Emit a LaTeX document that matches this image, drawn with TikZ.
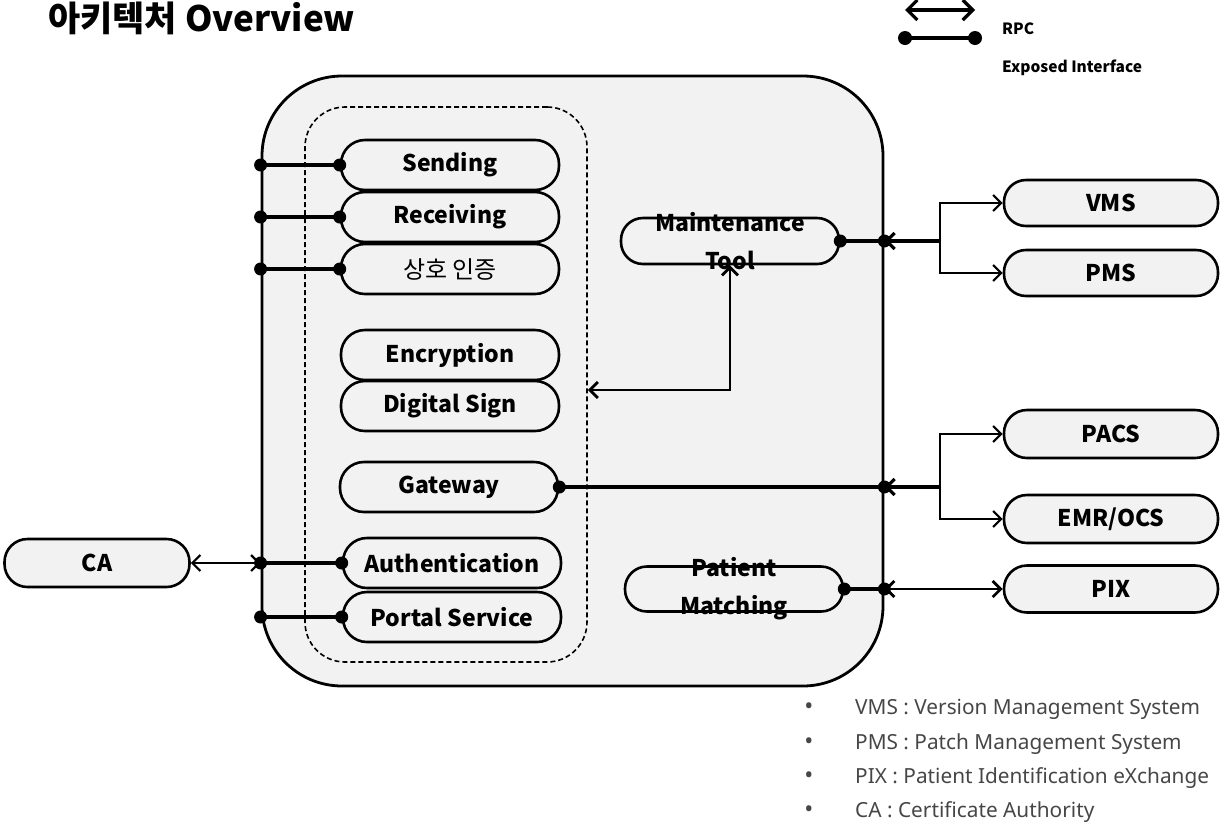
\documentclass[tikz,border=0pt]{standalone}
\usepackage{fontspec}
\setmainfont{Noto Sans CJK KR}
\newfontfamily\notefont{Noto Sans}
\usetikzlibrary{arrows.meta}
\definecolor{boxfill}{RGB}{242,242,242}
\definecolor{notegray}{RGB}{70,70,70}
\begin{document}
\begin{tikzpicture}[x=1pt,y=-1pt,
  mainbox/.style={draw=black, line width=2.8pt, fill=boxfill, rounded corners=80pt,
    minimum width=621pt, minimum height=610pt, inner sep=0pt},
  grpbox/.style={draw=black, line width=1.6pt, dash pattern=on 5pt off 3pt,
    rounded corners=40pt, minimum width=282pt, minimum height=555pt, inner sep=0pt},
  pillbox/.style={draw=black, line width=2.6pt, fill=boxfill, rounded corners=24pt,
    minimum width=218pt, minimum height=50pt, inner sep=0pt,
    font=\fontsize{23}{27}\selectfont\bfseries},
  pilltext/.style={align=center, inner sep=0pt, font=\fontsize{23}{38}\selectfont\bfseries},
  exline/.style={line width=3.8pt},
  rpcline/.style={line width=2.8pt, arrows={Straight Barb[length=8pt,width=16pt]-Straight Barb[length=8pt,width=16pt]}},
  branch/.style={line width=2.2pt, -{Straight Barb[length=8pt,width=16pt]}},
  legtext/.style={anchor=west, inner sep=0pt, font=\fontsize{15.5}{18}\selectfont\bfseries},
  note/.style={anchor=west, inner sep=0pt, text=notegray, font=\notefont\fontsize{20.8}{24}\selectfont},
  notebullet/.style={inner sep=0pt, text=notegray, font=\notefont\fontsize{24}{26}\selectfont}
]
\useasboundingbox (0,0) rectangle (1226,831);

% title
\node[anchor=base west, inner sep=0pt, font=\fontsize{35}{40}\selectfont\bfseries] (title) at (48,31) {아키텍처 Overview};

% legend
\coordinate (l1) at (905,10);
\coordinate (l2) at (975,10);
\coordinate (l3) at (905,38);
\coordinate (l4) at (975,38);
\draw[rpcline, line width=3.2pt, arrows={Straight Barb[length=10pt,width=20pt]-Straight Barb[length=10pt,width=20pt]}] (l1) -- (l2);
\draw[exline] (l3) -- (l4);
\fill (l3) circle[radius=7];
\fill (l4) circle[radius=7];
\node[legtext] (lrpc) at (1002,29) {RPC};
\node[legtext] (lexp) at (1002,68) {Exposed Interface};

% boxes
\node[mainbox] (main) at (572.5,381) {};
\node[grpbox] (grp) at (446,384.5) {};

\node[pillbox] (snd) at (450,165) {Sending};
\node[pillbox] (rcv) at (450,217) {Receiving};
\node[pillbox, font=\fontsize{24}{28}\selectfont] (mut) at (450,269) {상호 인증};
\node[pillbox] (enc) at (450,355) {Encryption};
\node[pillbox] (dig) at (450,406) {Digital Sign};
\node[pillbox] (gw) at (449,487) {Gateway};
\node[pillbox] (auth) at (452,563) {Authentication};
\node[pillbox] (portal) at (452,617) {Portal Service};

\node[pillbox, minimum height=46pt, rounded corners=22pt] (mt) at (730,241) {};
\node[pilltext] (mtt) at (mt.center) {Maintenance\\Tool};
\node[pillbox, minimum height=45pt, rounded corners=22pt] (pm) at (734,589) {};
\node[pilltext] (pmt) at (pm.center) {Patient\\Matching};

\node[pillbox, minimum width=214pt, minimum height=46pt, rounded corners=22pt] (vms) at (1111,203) {VMS};
\node[pillbox, minimum width=214pt, minimum height=46pt, rounded corners=22pt] (pms) at (1111,273) {PMS};
\node[pillbox, minimum width=214pt, minimum height=48pt, rounded corners=23pt] (pacs) at (1111,434) {PACS};
\node[pillbox, minimum width=214pt, minimum height=48pt, rounded corners=23pt] (emr) at (1111,519) {EMR/OCS};
\node[pillbox, minimum width=214pt, minimum height=47pt, rounded corners=23pt] (pix) at (1111,589) {PIX};
\node[pillbox, minimum width=185pt, minimum height=48pt, rounded corners=23pt] (ca) at (97,563) {CA};

% exposed interfaces on the left
\foreach \n in {snd,rcv,mut,auth,portal}{
  \draw[exline] (main.west |- \n.west) -- (\n.west);
  \fill (main.west |- \n.west) circle[radius=6.5];
  \fill (\n.west) circle[radius=6.5];
}

% CA
\draw[rpcline, line width=2.2pt] (ca.east) -- (main.west |- auth.west);

% Maintenance Tool
\coordinate (jm) at (940,241);
\draw[exline] (mt.east) -- (main.east |- mt.east);
\fill (mt.east) circle[radius=6.5];
\fill (main.east |- mt.east) circle[radius=6.5];
\draw[rpcline, line width=3.2pt, arrows={Straight Barb[length=8pt,width=16pt]-}] (main.east |- mt.east) -- (jm);
\draw[branch] (jm) |- (vms.west);
\draw[branch] (jm) |- (pms.west);

\coordinate (mc) at (730,390);
\draw[rpcline] (mt.south) |- (grp.east |- mc);

% Gateway
\coordinate (jg) at (940,487);
\draw[exline] (gw.east) -- (main.east |- gw.east);
\fill (gw.east) circle[radius=6.5];
\fill (main.east |- gw.east) circle[radius=6.5];
\draw[rpcline, line width=3.2pt, arrows={Straight Barb[length=8pt,width=16pt]-}] (main.east |- gw.east) -- (jg);
\draw[branch] (jg) |- (pacs.west);
\draw[branch] (jg) |- (emr.west);

% Patient Matching
\draw[exline] (pm.east) -- (main.east |- pm.east);
\fill (pm.east) circle[radius=6.5];
\fill (main.east |- pm.east) circle[radius=6.5];
\draw[rpcline] (main.east |- pm.east) -- (pix.west);

% notes
\node[notebullet] (b1) at (809,709) {•};
\node[notebullet] (b2) at (809,744) {•};
\node[notebullet] (b3) at (809,778) {•};
\node[notebullet] (b4) at (809,812) {•};
\node[note] (n1) at (855,709) {VMS : Version Management System};
\node[note] (n2) at (855,744) {PMS : Patch Management System};
\node[note] (n3) at (855,778) {PIX : Patient Identification eXchange};
\node[note] (n4) at (855,812) {CA : Certificate Authority};
\end{tikzpicture}
\end{document}
